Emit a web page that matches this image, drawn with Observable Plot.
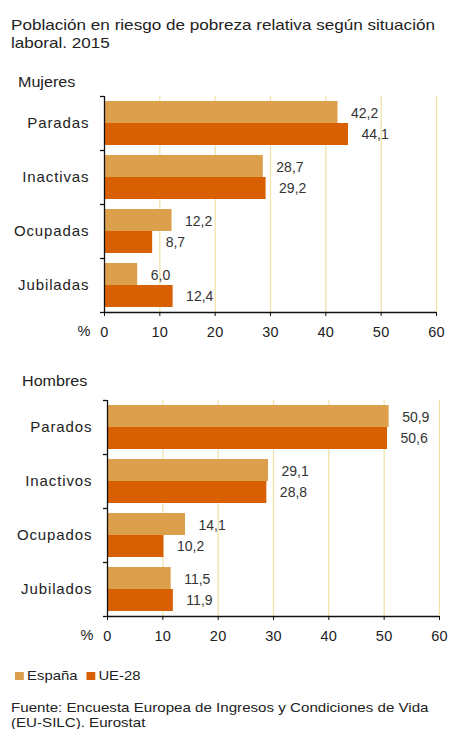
<!DOCTYPE html>
<html>
<head>
<meta charset="utf-8">
<script src="https://cdn.jsdelivr.net/npm/d3@7"></script>
<script src="https://cdn.jsdelivr.net/npm/@observablehq/plot@0.6"></script>
<style>
  html, body { margin: 0; padding: 0; background: #fff; }
  body { width: 449px; height: 729px; position: relative; overflow: hidden;
         font-family: "Liberation Sans", Arial, sans-serif; color: #222; }
  .abs { position: absolute; white-space: nowrap; transform-origin: left top; }
  #title { left: 11px; top: 16px; font-size: 15px; line-height: 18px; transform: scaleX(1.14); }
  .section { font-size: 14px; transform: scaleX(1.15); }
  #legend { left: 15px; top: 668px; font-size: 13.5px; display: flex; align-items: center; transform: scaleX(1.1); }
  #legend .sw { width: 8px; height: 8px; display: inline-block; margin-right: 3px; }
  #source { left: 11px; top: 701px; font-size: 13.5px; line-height: 14.5px; transform: scaleX(1.12); }
  svg g[aria-label="y-axis tick label"] text { letter-spacing: 0.9px; }
  svg g[aria-label="x-axis tick label"] text { letter-spacing: 0.3px; }
</style>
</head>
<body>
<div id="title" class="abs">Población en riesgo de pobreza relativa según situación<br>laboral. 2015</div>
<div id="mujLabel" class="abs section" style="left:18px; top:74px;">Mujeres</div>
<div id="chart1" class="abs" style="left:0; top:92px;"></div>
<div id="homLabel" class="abs section" style="left:22px; top:373px;">Hombres</div>
<div id="chart2" class="abs" style="left:0; top:396px;"></div>
<div id="legend" class="abs"></div>
<div id="source" class="abs">Fuente: Encuesta Europea de Ingresos y Condiciones de Vida<br>(EU-SILC). Eurostat</div>
<script>
const seriesNames = ["España", "UE-28"];
const seriesColors = ["#dca04c", "#d85f02"];
const xTicks = [0, 10, 20, 30, 40, 50, 60];

const mujeresCats = ["Paradas", "Inactivas", "Ocupadas", "Jubiladas"];
const mujeresEspana = [42.2, 28.7, 12.2, 6.0];
const mujeresUE = [44.1, 29.2, 8.7, 12.4];

const hombresCats = ["Parados", "Inactivos", "Ocupados", "Jubilados"];
const hombresEspana = [50.9, 29.1, 14.1, 11.5];
const hombresUE = [50.6, 28.8, 10.2, 11.9];

const fmt = v => v.toFixed(1).replace(".", ",");

function makeChart(cats, esp, ue, marginLeft) {
  const W = 449, marginTop = 4, marginBottom = 32, bandH = 54;
  const H = marginTop + marginBottom + bandH * cats.length;
  const espRows = cats.map((c, i) => ({cat: c, value: esp[i]}));
  const ueRows = cats.map((c, i) => ({cat: c, value: ue[i]}));
  const half = bandH / 2;
  return Plot.plot({
    width: W,
    height: H,
    marginLeft,
    marginRight: W - marginLeft - 332,
    marginTop,
    marginBottom,
    style: {fontFamily: "'Liberation Sans', Arial, sans-serif", color: "#222", background: "#fff"},
    x: {domain: [0, 60], ticks: xTicks},
    y: {domain: cats, padding: 0},
    marks: [
      Plot.ruleX(xTicks.filter(t => t > 0), {stroke: "#f0e0a2", strokeWidth: 1.2}),
      Plot.barX(espRows, {x: "value", y: "cat", fill: seriesColors[0], insetTop: 5, insetBottom: bandH - 27}),
      Plot.barX(ueRows, {x: "value", y: "cat", fill: seriesColors[1], insetTop: 27, insetBottom: 5}),
      Plot.text(espRows, {x: "value", y: "cat", text: d => fmt(d.value), dx: 13, dy: -10, textAnchor: "start", fill: "#333", fontSize: 14}),
      Plot.text(ueRows, {x: "value", y: "cat", text: d => fmt(d.value), dx: 13, dy: 11, textAnchor: "start", fill: "#333", fontSize: 14}),
      Plot.ruleX([0], {stroke: "#111", strokeWidth: 1.3}),
      Plot.ruleY(cats, {y: d => d, x1: 0, x2: 0, insetLeft: -4, dy: -half, stroke: "#111", strokeWidth: 1.3}),
      Plot.ruleY(cats.slice(-1), {y: d => d, dy: half, stroke: "#111", strokeWidth: 1.3}),
      Plot.ruleY(cats.slice(-1), {y: d => d, x1: 0, x2: 0, insetLeft: -4, dy: half, stroke: "#111", strokeWidth: 1.3}),
      Plot.axisY({tickSize: 0, tickPadding: 15, fontSize: 15, label: null}),
      Plot.axisX({ticks: xTicks, tickSize: 4, tickPadding: 10, fontSize: 14.5, label: null, stroke: "#111"}),
      Plot.text(["%"], {frameAnchor: "bottom-left", text: d => d, dx: -14, dy: 23, textAnchor: "end", fontSize: 14.5, fill: "#222"})
    ]
  });
}

document.getElementById("chart1").appendChild(makeChart(mujeresCats, mujeresEspana, mujeresUE, 104));
document.getElementById("chart2").appendChild(makeChart(hombresCats, hombresEspana, hombresUE, 107));

const legend = document.getElementById("legend");
seriesNames.forEach((name, i) => {
  const sw = document.createElement("span");
  sw.className = "sw";
  sw.style.background = seriesColors[i];
  const tx = document.createElement("span");
  tx.textContent = name;
  tx.style.marginRight = i === 0 ? "8px" : "0";
  legend.appendChild(sw);
  legend.appendChild(tx);
});
</script>
</body>
</html>
